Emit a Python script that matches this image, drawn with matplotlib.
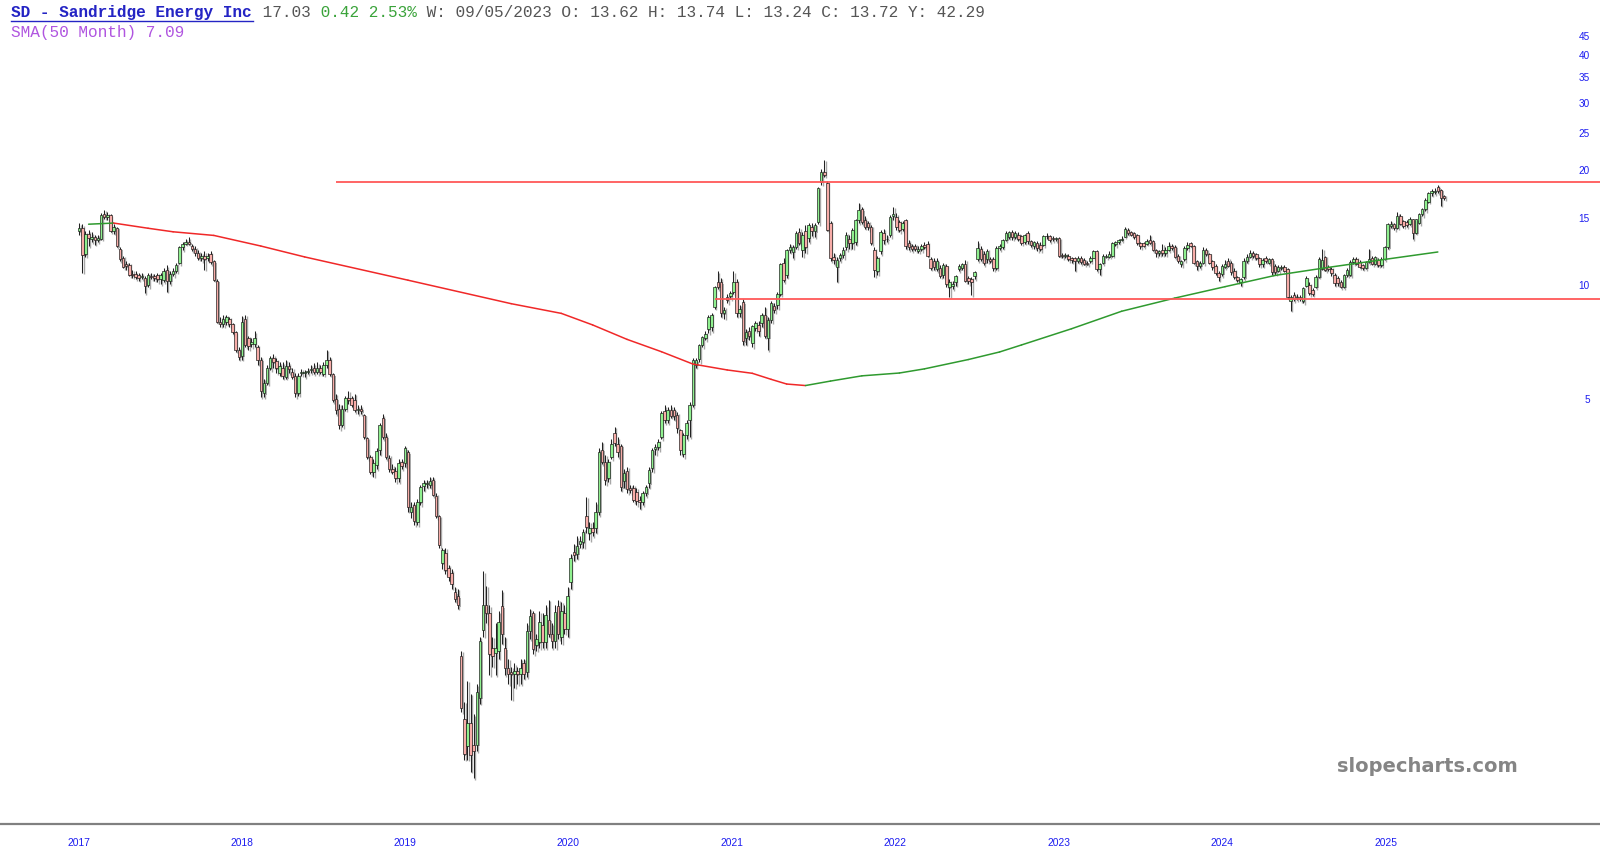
import matplotlib
matplotlib.use("Agg")
import matplotlib.pyplot as plt
import matplotlib.dates as mdates
import matplotlib.transforms as mtransforms
import pandas as pd

# SD weekly candles, one per week from the week of 2017-01-02
opens = [
    13.9, 14.15, 12.1, 13.7, 13.3, 13.4, 13.2, 13.3, 15.4, 15.15,
    15.3, 13.9, 14.2, 12.5, 11.8, 11.4, 11.35, 10.75, 10.75, 10.65,
    10.55, 10.5, 10.05, 10.6, 10.6, 10.65, 10.4, 10.35, 11.0, 10.3,
    10.75, 10.95, 11.5, 12.6, 12.9, 13.05, 12.7, 12.5, 12.2, 11.8,
    12.0, 11.8, 12.1, 11.6, 10.3, 8.05, 7.95, 8.05, 8.2, 7.95,
    7.55, 6.8, 6.55, 8.2, 7.3, 7.05, 7.05, 6.9, 6.4, 5.22,
    5.54, 6.07, 6.45, 6.35, 5.91, 6.1, 5.75, 6.15, 5.95, 5.8,
    5.22, 5.9, 5.9, 5.93, 6.0, 6.07, 5.95, 6.1, 5.88, 6.18,
    6.4, 5.85, 5.05, 4.75, 4.31, 4.75, 5.06, 5.06, 5.0, 4.72,
    4.76, 4.58, 3.98, 3.56, 3.25, 3.38, 3.7, 4.5, 4.02, 3.54,
    3.3, 3.27, 3.12, 3.45, 3.42, 3.66, 2.55, 2.66, 2.4, 2.7,
    2.98, 3.02, 3.0, 3.1, 2.8, 2.48, 1.87, 1.99, 1.82, 1.76,
    1.57, 1.53, 1.07, 0.73, 0.62, 0.71, 0.625, 0.625, 0.83, 1.25,
    1.45, 1.38, 1.12, 1.09, 1.1, 1.44, 1.12, 0.99, 0.97, 0.96,
    0.975, 0.955, 1.02, 0.97, 1.24, 1.38, 1.14, 1.16, 1.29, 1.16,
    1.33, 1.22, 1.17, 1.44, 1.2, 1.38, 1.26, 1.67, 2.0, 1.98,
    2.1, 2.12, 2.49, 2.24, 2.31, 2.31, 2.55, 3.71, 3.45, 3.12,
    3.56, 4.1, 3.84, 3.8, 3.08, 3.27, 2.94, 2.94, 2.88, 2.74,
    2.71, 2.85, 3.03, 3.32, 3.72, 3.77, 4.0, 4.7, 4.44, 4.72,
    4.73, 4.58, 4.18, 3.62, 4.06, 4.44, 4.87, 6.2, 6.43, 7.0,
    7.28, 7.68, 7.77, 8.81, 10.21, 10.21, 8.46, 9.36, 9.39, 9.65,
    10.2, 8.5, 9.05, 7.28, 7.6, 7.08, 7.75, 7.9, 7.98, 8.4,
    7.3, 8.15, 8.85, 8.9, 9.5, 11.45, 10.67, 12.41, 12.28, 12.66,
    13.87, 12.41, 13.9, 13.32, 14.3, 13.9, 14.73, 18.76, 19.92, 18.57,
    14.6, 11.9, 11.22, 11.8, 12.05, 12.66, 13.3, 12.92, 13.0, 14.88,
    15.85, 14.88, 14.6, 14.25, 12.41, 10.9, 12.3, 13.73, 13.3, 13.6,
    15.2, 15.18, 14.7, 14.1, 14.88, 12.95, 12.7, 12.69, 12.35, 12.45,
    12.82, 12.9, 11.73, 11.62, 11.05, 11.16, 10.67, 11.27, 9.92, 10.0,
    10.21, 11.05, 11.16, 11.38, 10.45, 10.4, 10.6, 11.73, 12.45, 12.08,
    11.73, 11.73, 11.73, 11.1, 12.57, 12.6, 13.21, 13.45, 13.8, 13.4,
    13.55, 13.47, 13.05, 13.74, 13.08, 12.69, 12.95, 12.82, 12.82, 13.47,
    13.47, 13.34, 13.3, 13.34, 12.05, 11.96, 12.0, 11.85, 11.8, 11.6,
    11.85, 11.7, 11.5, 11.6, 11.85, 12.3, 11.06, 11.5, 11.9, 11.92,
    12.0, 12.84, 13.0, 13.2, 13.46, 14.0, 13.86, 13.73, 13.6, 12.94,
    12.94, 12.9, 13.15, 13.07, 12.44, 12.15, 12.44, 12.15, 12.44, 12.69,
    12.64, 12.0, 11.4, 11.73, 12.56, 12.94, 12.69, 11.62, 11.28, 11.5,
    12.44, 12.08, 11.62, 11.28, 10.8, 10.74, 11.17, 11.62, 11.5, 10.95,
    10.53, 10.22, 10.53, 11.62, 11.92, 12.2, 12.08, 11.8, 11.4, 11.84,
    11.5, 11.73, 11.28, 10.95, 11.1, 11.17, 11.06, 9.09, 9.46, 9.3,
    9.36, 9.09, 10.0, 10.04, 9.75, 9.95, 10.55, 11.09, 11.88, 11.2,
    11.09, 10.7, 10.45, 10.24, 9.94, 10.66, 10.66, 11.54, 11.77, 11.54,
    11.31, 11.16, 11.54, 11.82, 11.43, 11.65, 11.31, 11.77, 12.6, 14.35,
    14.5, 14.2, 15.23, 14.78, 14.7, 14.5, 14.93, 13.79, 14.64, 15.38,
    15.85, 16.6, 17.5, 17.6, 18.2, 17.86, 17.16,
]
highs = [
    14.6, 14.5, 13.9, 14.0, 13.8, 13.6, 13.6, 15.5, 15.8, 15.6,
    15.4, 14.5, 14.3, 12.6, 12.0, 11.6, 11.5, 11.0, 10.9, 10.8,
    10.8, 10.6, 10.8, 10.8, 10.75, 10.8, 10.8, 11.1, 11.3, 10.9,
    11.1, 11.5, 12.7, 13.0, 13.3, 13.4, 12.9, 12.7, 12.4, 12.2,
    12.3, 12.2, 12.3, 11.7, 10.4, 8.3, 8.4, 8.4, 8.3, 8.0,
    7.6, 6.9, 8.35, 8.4, 7.4, 7.3, 7.6, 7.0, 6.5, 5.7,
    6.2, 6.55, 6.6, 6.45, 6.3, 6.3, 6.4, 6.3, 6.1, 5.9,
    5.9, 6.05, 6.0, 6.1, 6.2, 6.25, 6.3, 6.2, 6.3, 6.8,
    6.5, 5.9, 5.2, 4.9, 4.85, 5.15, 5.3, 5.15, 5.2, 4.85,
    4.85, 4.6, 4.0, 3.6, 3.5, 3.75, 4.35, 4.6, 4.1, 3.6,
    3.4, 3.35, 3.5, 3.5, 3.8, 3.7, 2.7, 2.7, 2.75, 3.0,
    3.1, 3.1, 3.15, 3.15, 2.85, 2.5, 2.05, 2.05, 1.85, 1.8,
    1.62, 1.6, 1.1, 0.81, 0.92, 0.85, 0.75, 0.9, 1.2, 1.78,
    1.63, 1.45, 1.2, 1.3, 1.4, 1.59, 1.2, 1.05, 1.0, 1.02,
    1.0, 1.05, 1.05, 1.3, 1.42, 1.4, 1.22, 1.4, 1.38, 1.45,
    1.5, 1.3, 1.45, 1.5, 1.48, 1.45, 1.62, 1.98, 2.1, 2.2,
    2.2, 2.3, 2.79, 2.4, 2.4, 2.7, 3.75, 3.9, 3.6, 3.5,
    3.95, 4.26, 4.0, 3.85, 3.3, 3.35, 3.0, 3.0, 2.95, 2.8,
    2.9, 3.0, 3.35, 3.75, 3.85, 3.95, 4.7, 4.85, 4.8, 4.85,
    4.8, 4.65, 4.2, 4.1, 4.45, 4.95, 6.45, 6.45, 7.05, 7.4,
    7.6, 8.4, 8.5, 10.0, 10.9, 10.5, 8.8, 9.5, 9.7, 10.9,
    10.4, 8.9, 9.2, 7.7, 7.8, 7.9, 8.1, 8.1, 8.5, 8.8,
    8.3, 9.1, 9.0, 9.6, 11.5, 11.8, 12.5, 12.9, 12.8, 13.9,
    14.2, 13.8, 14.4, 14.6, 14.6, 14.6, 18.2, 20.2, 21.4, 18.8,
    14.8, 12.2, 11.9, 12.2, 12.6, 13.8, 13.6, 14.2, 15.0, 16.5,
    16.1, 15.2, 14.8, 14.4, 12.6, 12.0, 14.0, 14.1, 13.6, 15.3,
    16.1, 15.5, 14.9, 14.8, 15.0, 13.2, 12.9, 12.9, 12.7, 12.9,
    13.0, 13.1, 11.9, 11.8, 11.8, 11.3, 11.5, 11.4, 10.4, 10.3,
    10.7, 11.4, 11.5, 11.7, 10.6, 10.55, 10.9, 13.1, 12.7, 12.3,
    12.5, 11.9, 11.9, 12.7, 12.9, 13.3, 13.9, 13.9, 14.0, 13.9,
    13.8, 13.6, 13.7, 13.9, 13.2, 13.1, 13.1, 13.0, 13.6, 13.74,
    13.6, 13.5, 13.45, 13.4, 12.2, 12.2, 12.1, 11.9, 11.9, 11.95,
    11.95, 11.8, 11.6, 11.95, 12.4, 12.4, 11.5, 12.1, 12.1, 12.3,
    13.0, 13.1, 13.3, 13.5, 14.3, 14.2, 13.95, 13.8, 13.7, 13.05,
    13.0, 13.3, 13.6, 13.2, 12.5, 12.4, 12.9, 12.6, 13.0, 12.9,
    12.8, 12.1, 11.7, 12.7, 13.0, 13.0, 12.8, 11.7, 11.6, 12.6,
    12.55, 12.2, 11.7, 11.4, 10.9, 11.4, 11.7, 11.85, 11.6, 11.1,
    10.6, 10.5, 11.8, 12.1, 12.4, 12.3, 12.2, 11.9, 11.8, 11.95,
    11.85, 11.8, 11.4, 11.3, 11.35, 11.3, 11.15, 9.45, 9.6, 9.5,
    9.45, 9.95, 10.6, 10.2, 9.85, 10.7, 11.9, 12.49, 12.0, 11.3,
    11.2, 10.8, 10.6, 10.35, 10.75, 11.1, 11.7, 11.9, 11.9, 11.7,
    11.4, 11.6, 12.5, 11.95, 12.0, 11.8, 11.9, 12.7, 14.6, 14.8,
    14.6, 15.6, 15.4, 14.9, 14.9, 15.1, 15.0, 15.0, 15.5, 16.0,
    17.0, 17.6, 17.9, 18.0, 18.39, 17.95, 17.3,
]
lows = [
    13.6, 10.8, 11.9, 12.7, 13.0, 12.8, 13.0, 13.2, 15.0, 14.9,
    13.8, 13.7, 12.6, 11.6, 11.1, 11.0, 10.6, 10.5, 10.4, 10.3,
    10.4, 9.55, 9.9, 10.4, 10.3, 10.2, 10.1, 10.2, 9.65, 10.1,
    10.6, 10.8, 11.4, 12.4, 12.8, 12.8, 12.3, 12.0, 11.7, 11.6,
    11.0, 11.6, 11.4, 10.3, 8.0, 7.8, 7.8, 7.9, 7.8, 7.45,
    6.7, 6.4, 6.4, 6.9, 6.8, 6.9, 6.9, 6.2, 5.1, 5.1,
    5.5, 6.0, 6.1, 5.9, 5.8, 5.7, 5.7, 5.9, 5.7, 5.1,
    5.15, 5.8, 5.75, 5.85, 5.9, 5.85, 5.85, 5.85, 5.8, 6.1,
    5.8, 4.95, 4.6, 4.2, 4.25, 4.7, 4.9, 4.8, 4.65, 4.6,
    4.6, 3.95, 3.5, 3.2, 3.15, 3.3, 3.6, 3.95, 3.5, 3.25,
    3.2, 3.05, 3.05, 3.3, 3.35, 2.55, 2.45, 2.35, 2.35, 2.65,
    2.9, 2.95, 2.95, 2.8, 2.45, 2.05, 1.8, 1.75, 1.68, 1.6,
    1.48, 1.42, 0.76, 0.57, 0.57, 0.53, 0.51, 0.6, 0.8, 1.2,
    1.3, 0.95, 1.0, 0.95, 1.05, 1.15, 0.95, 0.9, 0.82, 0.88,
    0.9, 0.9, 0.93, 0.94, 1.18, 1.08, 1.1, 1.12, 1.12, 1.12,
    1.2, 1.12, 1.12, 1.18, 1.15, 1.22, 1.2, 1.6, 1.9, 1.92,
    2.05, 2.05, 2.25, 2.15, 2.2, 2.25, 2.5, 3.4, 3.0, 3.05,
    3.5, 3.8, 3.55, 2.9, 2.95, 2.85, 2.85, 2.7, 2.65, 2.6,
    2.65, 2.8, 2.95, 3.25, 3.6, 3.7, 3.95, 4.35, 4.35, 4.5,
    4.45, 4.1, 3.6, 3.55, 3.95, 4.0, 4.8, 6.1, 6.3, 6.9,
    7.2, 7.5, 7.6, 8.7, 9.8, 8.3, 8.2, 9.0, 9.2, 9.5,
    8.3, 8.3, 7.0, 7.0, 7.2, 6.9, 7.6, 7.4, 7.8, 7.3,
    6.78, 8.0, 8.5, 8.7, 9.4, 10.2, 10.5, 12.2, 11.8, 12.5,
    12.8, 11.9, 12.2, 13.0, 13.5, 13.4, 14.5, 18.4, 19.3, 13.9,
    11.6, 11.4, 10.25, 11.6, 11.8, 12.4, 12.5, 12.5, 12.8, 14.6,
    14.5, 14.1, 14.0, 12.8, 10.56, 10.7, 12.1, 12.9, 13.0, 13.4,
    14.9, 14.0, 13.8, 13.9, 12.5, 12.4, 12.3, 12.3, 12.2, 12.3,
    12.5, 11.9, 11.0, 11.0, 10.9, 10.5, 10.5, 9.95, 9.34, 9.8,
    10.0, 10.9, 11.0, 10.2, 10.1, 9.44, 10.4, 11.6, 11.6, 11.3,
    11.5, 11.5, 10.95, 11.0, 12.4, 12.5, 13.1, 13.3, 13.2, 13.3,
    13.1, 12.8, 12.9, 12.9, 12.6, 12.5, 12.3, 12.3, 12.7, 13.3,
    13.0, 13.1, 13.1, 11.9, 11.8, 11.8, 11.6, 11.5, 10.95, 11.5,
    11.4, 11.3, 11.3, 11.5, 11.8, 10.9, 10.7, 11.4, 11.8, 11.85,
    11.9, 12.7, 12.9, 13.1, 13.4, 13.6, 13.5, 13.3, 12.8, 12.5,
    12.6, 12.8, 12.85, 12.3, 11.9, 12.0, 12.0, 12.0, 12.3, 12.4,
    11.8, 11.5, 11.2, 11.6, 12.4, 12.6, 11.4, 11.0, 11.1, 11.4,
    11.95, 11.4, 11.0, 10.7, 10.3, 10.6, 11.1, 11.2, 10.7, 10.4,
    10.2, 10.0, 10.4, 11.5, 11.8, 11.8, 11.7, 11.2, 11.2, 11.5,
    11.4, 10.7, 10.7, 10.85, 11.0, 10.85, 9.25, 8.6, 9.1, 9.15,
    9.1, 9.0, 9.9, 9.45, 9.4, 9.85, 10.5, 11.0, 10.9, 10.95,
    10.6, 10.0, 10.0, 9.85, 9.85, 10.55, 10.6, 11.4, 11.3, 11.1,
    11.0, 11.05, 11.45, 11.3, 11.3, 11.2, 11.2, 11.65, 12.5, 14.2,
    14.0, 14.1, 14.4, 14.2, 14.25, 14.4, 13.26, 13.7, 14.5, 15.2,
    15.7, 16.5, 17.2, 17.4, 17.5, 16.2, 16.8,
]
closes = [
    14.15, 12.05, 13.7, 13.35, 13.45, 13.2, 13.35, 15.3, 15.15, 15.35,
    13.9, 14.3, 12.7, 11.75, 11.2, 11.25, 10.67, 10.65, 10.56, 10.45,
    10.6, 10.0, 10.65, 10.55, 10.45, 10.4, 10.7, 10.9, 10.3, 10.75,
    10.95, 11.35, 12.6, 12.9, 13.0, 12.9, 12.5, 12.2, 11.8, 12.0,
    11.75, 11.95, 11.55, 10.35, 8.05, 7.95, 8.2, 8.3, 7.95, 7.55,
    6.8, 6.5, 8.05, 7.0, 6.95, 7.1, 7.3, 6.4, 5.3, 5.54,
    6.07, 6.45, 6.3, 6.07, 6.15, 5.8, 6.15, 6.05, 5.77, 5.22,
    5.8, 5.95, 5.92, 5.97, 6.06, 5.95, 6.07, 5.95, 6.18, 6.4,
    5.85, 5.01, 4.72, 4.31, 4.75, 5.06, 5.0, 4.86, 4.72, 4.75,
    4.68, 4.0, 3.55, 3.25, 3.42, 3.68, 4.31, 4.02, 3.56, 3.3,
    3.25, 3.12, 3.42, 3.37, 3.75, 2.63, 2.63, 2.41, 2.7, 2.97,
    3.03, 3.04, 3.07, 2.83, 2.48, 2.09, 2.02, 1.79, 1.72, 1.65,
    1.51, 1.45, 0.78, 0.59, 0.71, 0.585, 0.6, 0.86, 1.17, 1.45,
    1.38, 1.08, 1.07, 1.12, 1.31, 1.22, 0.99, 0.96, 0.955, 0.975,
    0.955, 0.99, 0.955, 1.24, 1.36, 1.11, 1.18, 1.31, 1.16, 1.37,
    1.22, 1.17, 1.39, 1.22, 1.4, 1.26, 1.53, 1.93, 1.97, 2.07,
    2.14, 2.26, 2.32, 2.31, 2.26, 2.55, 3.67, 3.45, 3.09, 3.45,
    3.84, 3.86, 3.67, 2.96, 3.23, 2.92, 2.91, 2.74, 2.73, 2.71,
    2.86, 2.96, 3.28, 3.71, 3.77, 3.88, 4.64, 4.43, 4.72, 4.55,
    4.55, 4.22, 3.71, 4.06, 4.36, 4.87, 6.38, 6.38, 6.98, 7.32,
    7.47, 8.29, 8.4, 9.9, 9.94, 8.46, 8.66, 9.17, 9.56, 10.25,
    8.5, 8.69, 7.15, 7.55, 7.37, 7.83, 7.98, 7.6, 8.39, 7.4,
    8.15, 9.0, 8.65, 9.5, 11.4, 10.36, 12.41, 12.6, 12.66, 13.73,
    12.92, 13.6, 12.6, 14.44, 13.9, 14.44, 18.02, 19.92, 19.52, 14.0,
    11.8, 11.65, 11.68, 12.05, 12.41, 13.6, 12.95, 14.0, 14.88, 15.8,
    14.73, 14.3, 14.25, 12.92, 11.0, 11.8, 13.87, 13.2, 13.25, 15.18,
    15.4, 14.3, 14.0, 14.6, 12.69, 12.6, 12.45, 12.5, 12.5, 12.69,
    12.6, 12.0, 11.16, 11.2, 11.62, 10.62, 11.3, 10.1, 10.21, 10.11,
    10.58, 11.27, 11.38, 10.31, 10.31, 10.25, 10.84, 12.57, 11.73, 11.5,
    12.33, 11.6, 11.1, 12.57, 12.69, 13.21, 13.74, 13.8, 13.4, 13.74,
    13.25, 12.95, 13.6, 13.08, 12.82, 13.0, 12.57, 12.45, 13.47, 13.52,
    13.21, 13.3, 13.35, 11.96, 11.96, 12.05, 11.73, 11.7, 11.6, 11.85,
    11.55, 11.4, 11.4, 11.85, 12.3, 11.06, 11.4, 11.96, 12.0, 12.13,
    12.94, 13.0, 13.2, 13.3, 14.05, 13.73, 13.6, 13.46, 12.94, 12.69,
    12.74, 13.07, 12.94, 12.44, 12.15, 12.32, 12.15, 12.44, 12.69, 12.56,
    11.92, 11.62, 11.62, 12.56, 12.82, 12.74, 11.5, 11.28, 11.5, 12.44,
    12.08, 11.5, 11.17, 10.8, 10.53, 11.28, 11.4, 11.28, 10.84, 10.53,
    10.32, 10.42, 11.62, 11.92, 12.2, 11.96, 11.8, 11.4, 11.68, 11.62,
    11.73, 10.84, 10.84, 11.17, 11.2, 10.95, 9.35, 9.36, 9.25, 9.36,
    9.25, 9.84, 10.45, 9.55, 9.5, 10.55, 11.77, 11.65, 10.98, 11.09,
    10.77, 10.14, 10.14, 9.94, 10.66, 10.98, 11.54, 11.77, 11.43, 11.2,
    11.16, 11.54, 11.77, 11.43, 11.88, 11.31, 11.77, 12.6, 14.5, 14.5,
    14.2, 15.23, 14.5, 14.35, 14.4, 14.93, 13.79, 14.93, 15.38, 15.85,
    16.82, 17.5, 17.68, 17.7, 17.68, 16.99, 17.03,
]

# SMA(50 Month): week number -> value
sma_week = [3, 11, 22, 30, 43, 58, 72, 105, 138, 154, 164, 175, 186, 196, 207, 215,
            221, 226, 232, 240, 250, 262, 270, 284, 294, 301, 317, 333, 350, 366,
            382, 399, 415, 434]
sma_value = [14.5, 14.6, 14.15, 13.85, 13.55, 12.71, 11.9, 10.34, 8.97, 8.46, 7.89,
             7.23, 6.71, 6.23, 6.01, 5.89, 5.68, 5.52, 5.47, 5.62, 5.8, 5.9, 6.05,
             6.4, 6.7, 6.99, 7.71, 8.57, 9.28, 9.94, 10.64, 11.17, 11.66, 12.26]

# horizontal levels and the week each one starts at
level_price = [18.7, 9.25]
level_start_week = [82, 203]

price_ticks = [5, 10, 15, 20, 25, 30, 35, 40, 45]
years = list(range(2017, 2026))

W, H = 1600, 865
fig = plt.figure(figsize=(W / 100, H / 100), dpi=100)
ax = fig.add_axes([0, 41 / H, 1, 824 / H])
ax.set_yscale("log")

dates = pd.date_range("2017-01-02", periods=len(closes), freq="7D")
x = mdates.date2num(dates)
wk = 7.0

# candles: grey drop shadow first, then wick and body
body_bottom = [min(o, c) for o, c in zip(opens, closes)]
body_height = [max(abs(c - o), 0.003 * c) for o, c in zip(opens, closes)]
fills = ["#8ff08f" if c >= o else "#f7aca8" for o, c in zip(opens, closes)]

shadow = mtransforms.offset_copy(ax.transData, fig=fig, x=1.5, y=-1.5, units="dots")
ax.vlines(x, lows, highs, colors="#a8a8a8", linewidth=1.0, transform=shadow, zorder=1)
ax.bar(x, body_height, bottom=body_bottom, width=0.8 * wk, color="#a8a8a8",
       linewidth=0, transform=shadow, zorder=1)
ax.vlines(x, lows, highs, colors="#222222", linewidth=0.75, zorder=2)
ax.bar(x, body_height, bottom=body_bottom, width=0.8 * wk, color=fills,
       edgecolor="#111111", linewidth=0.45, zorder=3)

# moving average: green while rising, red while falling
for k in range(len(sma_week) - 1):
    col = "#2f9a2f" if sma_value[k + 1] >= sma_value[k] else "#f02828"
    ax.plot(x[[sma_week[k], sma_week[k + 1]]], [sma_value[k], sma_value[k + 1]],
            color=col, lw=1.1, zorder=4, solid_capstyle="round")

x_left = x[0] - 25.3 * wk
x_right = x[0] + 485.8 * wk
ax.hlines(level_price, [x[w] for w in level_start_week], x_right,
          colors="#ff5858", lw=1.3, zorder=4)

ax.set_xlim(x_left, x_right)
ax.set_ylim(0.3867, 56.2)
ax.set_yticks([])
ax.yaxis.set_minor_locator(matplotlib.ticker.NullLocator())
ax.set_xticks([])
for s in ["top", "left", "right"]:
    ax.spines[s].set_visible(False)
ax.spines["bottom"].set_color("#808080")
ax.spines["bottom"].set_linewidth(1.6)

blue = "#1c1cf0"
for v in price_ticks:
    ax.text(1590 / W, v, str(v), transform=ax.get_yaxis_transform(), ha="right",
            va="center", fontsize=7.2, color=blue, family="Liberation Sans")

for y in years:
    xp = mdates.date2num(pd.Timestamp(f"{y}-01-01"))
    ax.text(xp, -19 / 824, str(y), transform=ax.get_xaxis_transform(), ha="center",
            va="center", fontsize=7.4, color=blue,
            family=["Liberation Sans Narrow", "Liberation Sans"], fontstretch="condensed")

fig.text(1427 / W, 1 - 767 / H, "slopecharts.com", ha="center", va="center",
         fontsize=14, fontweight="bold", color="#858585", family="DejaVu Sans")

# header line, monospace so each piece follows on by character count
cw = 9.67
x0 = 11
head = [
    ("SD - Sandridge Energy Inc", "#2424c4", "bold"),
    (" 17.03", "#555555", "normal"),
    (" 0.42 2.53%", "#3aa33a", "normal"),
    (" W: 09/05/2023 O: 13.62 H: 13.74 L: 13.24 C: 13.72 Y: 42.29", "#555555", "normal"),
]
n = 0
for txt, col, wt in head:
    fig.text((x0 + n * cw) / W, 1 - 12.5 / H, txt, ha="left", va="center",
             fontsize=11.6, color=col, fontweight=wt, family="Liberation Mono")
    n += len(txt)
fig.add_artist(plt.Line2D([x0 / W, (x0 + 25 * cw) / W], [1 - 21 / H, 1 - 21 / H],
                          color="#2424c4", lw=1.0))
fig.text(x0 / W, 1 - 33 / H, "SMA(50 Month) 7.09", ha="left", va="center",
         fontsize=11.6, color="#b055e0", family="Liberation Mono")

fig.savefig("out.png", dpi=100)
